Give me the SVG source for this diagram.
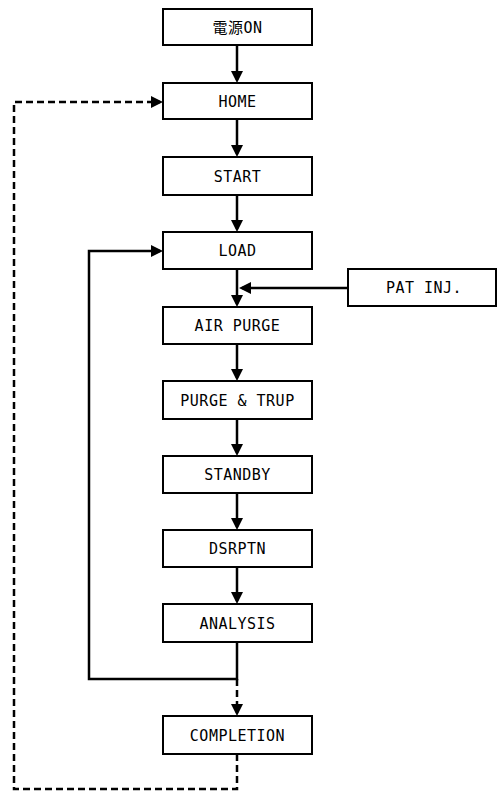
<svg xmlns="http://www.w3.org/2000/svg" width="497" height="791" viewBox="0 0 497 791">
<defs>
<style>
.box{fill:#fff;stroke:#000;stroke-width:2}
.lbl{font-family:"DejaVu Sans Mono","Noto Sans CJK JP",monospace;font-size:15px;letter-spacing:0.5px;text-anchor:middle;fill:#000}
.ln{fill:none;stroke:#000;stroke-width:2.5}
.dash{stroke-dasharray:7,4}
</style>
<marker id="ah" viewBox="0 0 12 12" refX="9" refY="6" markerWidth="12" markerHeight="12" markerUnits="userSpaceOnUse" orient="auto">
<path d="M0,0 L12,6 L0,12 Z" fill="#000"/>
</marker>
</defs>
<rect width="497" height="791" fill="#fff"/>
<g id="connectors">
<path class="ln" d="M237,45 V80" marker-end="url(#ah)"/>
<path class="ln" d="M237,119 V154" marker-end="url(#ah)"/>
<path class="ln" d="M237,195 V229" marker-end="url(#ah)"/>
<path class="ln" d="M237,269 V304" marker-end="url(#ah)"/>
<path class="ln" d="M348,288 H242" marker-end="url(#ah)"/>
<path class="ln" d="M237,344 V378" marker-end="url(#ah)"/>
<path class="ln" d="M237,419 V453" marker-end="url(#ah)"/>
<path class="ln" d="M237,493 V527" marker-end="url(#ah)"/>
<path class="ln" d="M237,567 V601" marker-end="url(#ah)"/>
<path class="ln" d="M237,642 V679 H89 V251 H160" marker-end="url(#ah)"/>
<path class="ln dash" d="M237,679 V713" marker-end="url(#ah)"/>
<path class="ln dash" d="M237,754 V789 H14 V102 H160" marker-end="url(#ah)"/>
</g>
<g id="n-power"><rect class="box" x="163" y="9" width="149" height="36"/><text class="lbl" x="237.5" y="32.5">電源ON</text></g>
<g id="n-home"><rect class="box" x="163" y="83" width="149" height="36"/><text class="lbl" x="237.5" y="106.5">HOME</text></g>
<g id="n-start"><rect class="box" x="163" y="157" width="149" height="38"/><text class="lbl" x="237.5" y="181.5">START</text></g>
<g id="n-load"><rect class="box" x="163" y="232" width="149" height="37"/><text class="lbl" x="237.5" y="256">LOAD</text></g>
<g id="n-patinj"><rect class="box" x="348" y="269" width="148" height="37"/><text class="lbl" x="424" y="293">PAT INJ.</text></g>
<g id="n-airpurge"><rect class="box" x="163" y="307" width="149" height="37"/><text class="lbl" x="237.5" y="331">AIR PURGE</text></g>
<g id="n-purgetrup"><rect class="box" x="163" y="381" width="149" height="38"/><text class="lbl" x="237.5" y="405.5">PURGE &amp; TRUP</text></g>
<g id="n-standby"><rect class="box" x="163" y="456" width="149" height="37"/><text class="lbl" x="237.5" y="480">STANDBY</text></g>
<g id="n-dsrptn"><rect class="box" x="163" y="530" width="149" height="37"/><text class="lbl" x="237.5" y="554">DSRPTN</text></g>
<g id="n-analysis"><rect class="box" x="163" y="604" width="149" height="38"/><text class="lbl" x="237.5" y="628.5">ANALYSIS</text></g>
<g id="n-completion"><rect class="box" x="163" y="716" width="149" height="38"/><text class="lbl" x="237.5" y="740.5">COMPLETION</text></g>
</svg>
